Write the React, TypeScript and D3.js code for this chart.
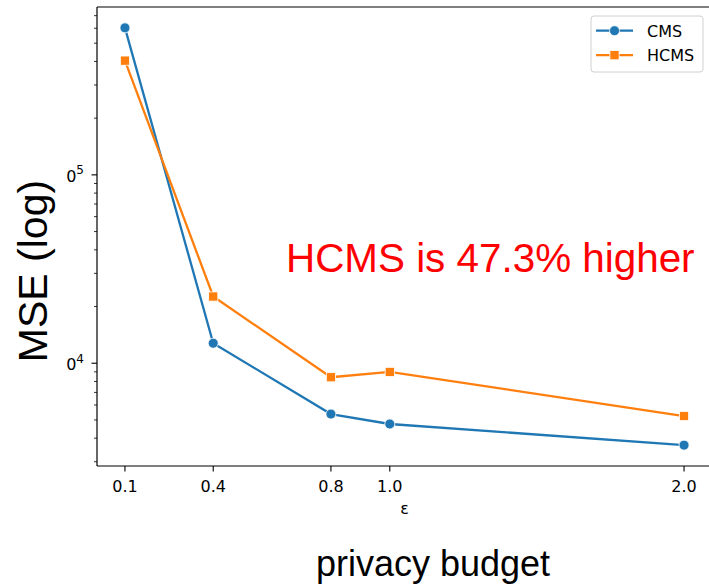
import React from "react";
import * as d3 from "d3";

const epsilons = [0.1, 0.4, 0.8, 1.0, 2.0];
const xTickLabels = ["0.1", "0.4", "0.8", "1.0", "2.0"];
const cmsValues = [603000, 12770, 5370, 4757, 3674];
const hcmsValues = [404000, 22600, 8426, 8990, 5245];
const yMajorTicks = [1e4, 1e5];
const yTickBase = ["0", "0"];
const yTickExp = ["4", "5"];
const seriesNames = ["CMS", "HCMS"];
const annotation = "HCMS is 47.3% higher";

const W = 709;
const H = 584;
const blue = "#1f77b4";
const orange = "#ff7f0e";

export default function App() {
  const left = 97, top = 7, bottom = 466;
  const xr = d3.extent(epsilons) as [number, number];
  const xm = (xr[1] - xr[0]) * 0.05;
  const right = 712;
  const x = d3.scaleLinear().domain([xr[0] - xm, xr[1] + xm]).range([left, right]);

  const all = [...cmsValues, ...hcmsValues];
  const lmin = Math.log10(d3.min(all)!);
  const lmax = Math.log10(d3.max(all)!);
  const lm = (lmax - lmin) * 0.05;
  const y = d3.scaleLog().domain([10 ** (lmin - lm), 10 ** (lmax + lm)]).range([bottom, top]);

  const [d0, d1] = y.domain();
  const minor: number[] = [];
  for (let e = Math.floor(Math.log10(d0)); e <= Math.ceil(Math.log10(d1)); e++) {
    for (let m = 2; m <= 9; m++) {
      const v = m * 10 ** e;
      if (v >= d0 && v <= d1) minor.push(v);
    }
  }

  const line = d3.line<number>().x((_, i) => x(epsilons[i])).y((d) => y(d));
  const font = "'DejaVu Sans', sans-serif";
  const arial = "'Liberation Sans', Arial, sans-serif";

  return (
    <svg width={W} height={H} style={{ position: "absolute", left: 0, top: 0, background: "#fff" }}>
      <rect x={0} y={0} width={W} height={H} fill="#fff" />
      <path d={line(cmsValues) || ""} fill="none" stroke={blue} strokeWidth={2.3} />
      <path d={line(hcmsValues) || ""} fill="none" stroke={orange} strokeWidth={2.3} />
      {cmsValues.map((v, i) => (
        <circle key={"c" + i} cx={x(epsilons[i])} cy={y(v)} r={5} fill={blue} stroke="#fff" strokeWidth={0.8} />
      ))}
      {hcmsValues.map((v, i) => (
        <rect key={"h" + i} x={x(epsilons[i]) - 4.6} y={y(v) - 4.6} width={9.2} height={9.2} fill={orange} stroke="#fff" strokeWidth={0.8} />
      ))}
      <line x1={left} y1={top} x2={left} y2={bottom} stroke="#000" strokeWidth={1.2} />
      <line x1={left} y1={bottom} x2={right} y2={bottom} stroke="#000" strokeWidth={1.2} />
      <line x1={left} y1={top} x2={right} y2={top} stroke="#000" strokeWidth={1.2} />
      {epsilons.map((e, i) => (
        <g key={"xt" + i}>
          <line x1={x(e)} x2={x(e)} y1={bottom} y2={bottom + 5.5} stroke="#000" strokeWidth={1.1} />
          <text x={x(e)} y={491.5} textAnchor="middle" fontFamily={font} fontSize={16} fill="#000">
            {xTickLabels[i]}
          </text>
        </g>
      ))}
      <text x={(left + right) / 2} y={514} textAnchor="middle" fontFamily={font} fontSize={16} fill="#000">ε</text>
      {minor.map((v, i) => (
        <line key={"mn" + i} x1={left - 3} x2={left} y1={y(v)} y2={y(v)} stroke="#000" strokeWidth={0.8} />
      ))}
      {yMajorTicks.map((v, i) => (
        <g key={"yt" + i}>
          <line x1={left - 5.5} x2={left} y1={y(v)} y2={y(v)} stroke="#000" strokeWidth={1.1} />
          <text x={84} y={y(v) + 7} textAnchor="end" fontFamily={font} fontSize={16} fill="#000">
            {yTickBase[i]}
            <tspan dy={-7.5} fontSize={12}>{yTickExp[i]}</tspan>
          </text>
        </g>
      ))}
      <text transform={`translate(47,271) rotate(-90)`} textAnchor="middle" fontFamily={arial} fontSize={41} fill="#000">
        MSE (log)
      </text>
      <text x={433} y={576} textAnchor="middle" fontFamily={arial} fontSize={36} fill="#000">
        privacy budget
      </text>
      <text x={286} y={272} fontFamily={arial} fontSize={40.4} fill="#ff0000">
        {annotation}
      </text>
      <rect x={591} y={16} width={112} height={56} rx={3} fill="#fff" fillOpacity={0.8} stroke="#d0d0d0" strokeWidth={1} />
      {[blue, orange].map((c, i) => {
        const ly = 30.7 + i * 24.5;
        return (
          <g key={"lg" + i}>
            <line x1={596} x2={633} y1={ly} y2={ly} stroke={c} strokeWidth={2.3} />
            {i === 0 ? (
              <circle cx={614.5} cy={ly} r={5} fill={c} stroke="#fff" strokeWidth={0.8} />
            ) : (
              <rect x={614.5 - 4.6} y={ly - 4.6} width={9.2} height={9.2} fill={c} stroke="#fff" strokeWidth={0.8} />
            )}
            <text x={647} y={ly + 6} fontFamily={font} fontSize={16} fill="#000">{seriesNames[i]}</text>
          </g>
        );
      })}
    </svg>
  );
}
